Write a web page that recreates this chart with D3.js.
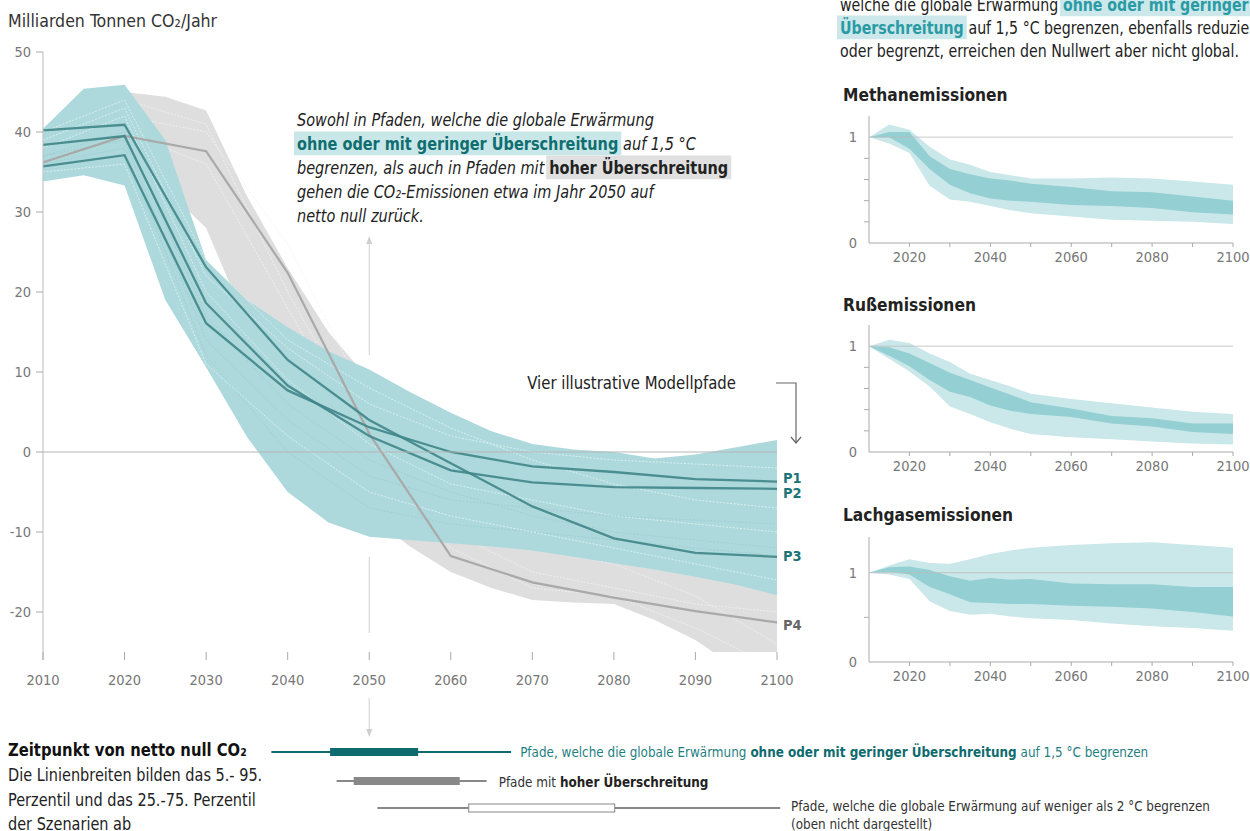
<!DOCTYPE html>
<html><head><meta charset="utf-8">
<script src="https://cdn.jsdelivr.net/npm/d3@7"></script>
<style>body{margin:0;background:#fff} text{white-space:pre}</style>
</head><body><svg id="c" width="1250" height="831"></svg>
<script>
// ---------- DATA ----------
const decades = [2010,2020,2030,2040,2050,2060,2070,2080,2090,2100];
const p1 = [35.7, 37.1, 16.1, 7.7, 3.1, 0.0, -1.8, -2.5, -3.4, -3.7];
const p2 = [38.4, 39.5, 18.6, 8.3, 2.0, -2.3, -3.8, -4.4, -4.5, -4.6];
const p3 = [40.2, 40.9, 23.1, 11.5, 4.0, -1.4, -6.8, -10.8, -12.6, -13.1];
const p4 = [36.2, 39.5, 37.6, 22.4, 2.3, -13.0, -16.3, -18.2, -19.9, -21.3];
const pathNames = ["P1","P2","P3","P4"];

const years5 = [2010,2015,2020,2025,2030,2035,2040,2045,2050,2055,2060,2065,2070,2075,2080,2085,2090,2095,2100];
const tealHigh = [40.4,45.4,45.9,39.0,24.0,19.0,15.6,12.6,10.3,7.5,4.9,2.6,1.0,0.3,0.0,-0.8,-0.3,0.6,1.5];
const tealLow  = [33.8,34.6,33.3,19.0,10.6,1.9,-5.0,-8.8,-10.6,-11.0,-11.4,-11.8,-12.3,-13.1,-13.9,-14.7,-15.6,-16.6,-17.9];
const greyHigh = [39.0,42.0,45.0,44.4,42.7,32.0,23.0,15.0,9.0,5.5,3.0,1.0,-0.5,-1.0,-1.5,-2.0,-2.0,-2.0,-2.0];
const greyLow  = [35.0,36.0,37.0,33.0,28.0,16.0,5.0,-3.0,-8.0,-11.8,-15.0,-17.0,-18.5,-18.8,-19.0,-21.0,-23.5,-27.0,-30.0];

// faint individual scenario lines (decadal)
const tealScen = [
  [38, 42, 20, 9, 1, -4, -6, -8, -9, -10],
  [37, 39, 14, 4, -3, -6, -7, -8, -8.5, -9],
  [39, 43, 22, 13, 6, 2, 0, -1, -1.5, -2],
  [36, 38, 12, 0, -7, -9, -10, -11, -12, -13],
  [40, 44, 24, 14, 8, 3, -1, -4, -6, -7],
  [37, 40, 17, 6, -1, -5, -8, -10, -11, -12],
  [35, 36, 11, 2, -5, -8, -10, -12, -14, -16]
];
const greyScen = [
  [38, 42, 40, 26, 6, -10, -15, -17, -19, -20],
  [37, 44, 41, 20, 2, -8, -12, -14, -18, -24],
  [36, 40, 36, 18, 0, -12, -17, -18, -22, -27]
];

const yTicks = [-20,-10,0,10,20,30,40,50];
const xTicks = [2010,2020,2030,2040,2050,2060,2070,2080,2090,2100];

// small panels
const pYears = [2010,2015,2020,2025,2030,2035,2040,2045,2050,2060,2070,2080,2090,2100];
const mOutHi = [1.0,1.12,1.07,0.91,0.79,0.74,0.67,0.64,0.61,0.61,0.62,0.61,0.58,0.55];
const mOutLo = [1.0,0.94,0.85,0.54,0.41,0.39,0.35,0.31,0.28,0.25,0.22,0.21,0.20,0.18];
const mInHi  = [1.0,1.05,1.05,0.82,0.70,0.65,0.61,0.59,0.56,0.53,0.49,0.48,0.44,0.40];
const mInLo  = [1.0,1.00,0.89,0.70,0.55,0.47,0.42,0.40,0.39,0.36,0.35,0.33,0.29,0.27];
const bOutHi = [1.0,1.06,1.03,0.93,0.85,0.74,0.68,0.62,0.55,0.50,0.46,0.42,0.38,0.36];
const bOutLo = [1.0,0.88,0.76,0.62,0.43,0.36,0.28,0.22,0.17,0.14,0.12,0.10,0.08,0.07];
const bInHi  = [1.0,0.99,0.93,0.84,0.75,0.68,0.61,0.54,0.47,0.41,0.34,0.32,0.27,0.27];
const bInLo  = [1.0,0.91,0.81,0.68,0.57,0.52,0.44,0.39,0.36,0.33,0.27,0.24,0.19,0.17];
const nOutHi = [1.0,1.08,1.15,1.11,1.10,1.15,1.21,1.25,1.28,1.31,1.33,1.34,1.31,1.28];
const nOutLo = [1.0,0.98,0.93,0.68,0.57,0.53,0.54,0.51,0.49,0.47,0.43,0.40,0.38,0.35];
const nInHi  = [1.0,1.06,1.07,1.03,0.96,0.91,0.94,0.92,0.93,0.88,0.87,0.87,0.84,0.84];
const nInLo  = [1.0,1.01,0.98,0.84,0.76,0.67,0.66,0.65,0.65,0.63,0.62,0.60,0.56,0.51];
const panelTitles = ["Methanemissionen","Rußemissionen","Lachgasemissionen"];
const panelXLabels = [2020,2040,2060,2080,2100];

// net-zero timing (5th, 25th, 75th, 95th percentile year)
const nzLow  = [2038, 2045.2, 2056, 2067.4];
const nzHigh = [2046, 2048.1, 2061.1, 2064.4];
const nz2C   = [2051, 2062.2, 2080.1, 2100.4];

// ---------- DRAW ----------
const FONT = "'DejaVu Sans Condensed','Liberation Sans Narrow','Open Sans',sans-serif";
const SQ = 0.92; // horizontal condensing of prose text
const svg = d3.select("#c");
const x = d3.scaleLinear().domain([2010,2100]).range([43,777]);
const y = d3.scaleLinear().domain([-25,50]).range([652,52]);

function cond(sel, f){
  const w = sel.node().getComputedTextLength();
  sel.attr("textLength", w*(f||SQ)).attr("lengthAdjust","spacingAndGlyphs");
  return w*(f||SQ);
}

svg.append("defs").append("clipPath").attr("id","clipMain")
  .append("rect").attr("x",x(2010)).attr("y",y(50)).attr("width",x(2100)-x(2010)).attr("height",y(-25)-y(50));

const g = svg.append("g").attr("clip-path","url(#clipMain)");
const area5 = (hi,lo) => d3.area().x((d,i)=>x(years5[i])).y0((d,i)=>y(lo[i])).y1((d,i)=>y(hi[i]))(hi);
const lineDec = d3.line().x((d,i)=>x(decades[i])).y(d=>y(d));

g.append("path").attr("d",area5(greyHigh,greyLow)).attr("fill","#dedede");
greyScen.forEach(s=>g.append("path").attr("d",lineDec(s)).attr("fill","none")
  .attr("stroke","#f2f2f2").attr("stroke-width",0.8).attr("stroke-dasharray","2,1.5"));
g.append("path").attr("d",area5(tealHigh,tealLow)).attr("fill","#aed9dc");
tealScen.forEach((s,k)=>g.append("path").attr("d",lineDec(s)).attr("fill","none")
  .attr("stroke", k%2 ? "#9ccdd1" : "#dcf0f1").attr("stroke-width",0.9).attr("stroke-dasharray","2,1.5"));

// zero line
svg.append("line").attr("x1",x(2010)).attr("x2",x(2100)).attr("y1",y(0)).attr("y2",y(0))
  .attr("stroke","#b5b5b5").attr("stroke-width",1.2);

// illustrative paths
g.append("path").attr("d",lineDec(p4)).attr("fill","none").attr("stroke","#a9a9a9").attr("stroke-width",2.2);
[p1,p2,p3].forEach(p=>g.append("path").attr("d",lineDec(p)).attr("fill","none")
  .attr("stroke","#3f8588").attr("stroke-width",2.3).attr("stroke-opacity",0.9));

// axes
const ax = svg.append("g").attr("font-family",FONT);
ax.append("line").attr("x1",x(2010)).attr("x2",x(2010)).attr("y1",y(50)).attr("y2",y(-25)+8).attr("stroke","#bbb");
yTicks.forEach(v=>{
  ax.append("line").attr("x1",x(2010)-7).attr("x2",x(2010)).attr("y1",y(v)).attr("y2",y(v)).attr("stroke","#aaa");
  ax.append("text").attr("x",x(2010)-12).attr("y",y(v)).attr("dy","0.35em").attr("text-anchor","end")
    .attr("font-size",14.5).attr("fill","#777").text(v);
});
xTicks.forEach(v=>{
  ax.append("line").attr("x1",x(v)).attr("x2",x(v)).attr("y1",y(-25)).attr("y2",y(-25)+8).attr("stroke","#aaa");
  ax.append("text").attr("x",x(v)).attr("y",685).attr("text-anchor","middle")
    .attr("font-size",14.5).attr("fill","#777").text(v);
});
cond(svg.append("text").attr("x",8).attr("y",27).attr("font-family",FONT).attr("font-size",18.5).attr("fill","#333")
  .text("Milliarden Tonnen CO₂/Jahr"), 0.95);

// P labels
const ends = [p1,p2,p3,p4].map(p=>p[p.length-1]);
const dyOff = [-4,4,-1,3];
ends.forEach((v,i)=>svg.append("text").attr("x",x(2100)+6).attr("y",y(v)+dyOff[i]).attr("dy","0.35em")
  .attr("font-family",FONT).attr("font-weight","bold").attr("font-size",14.5)
  .attr("fill", i<3 ? "#1b7477" : "#666").text(pathNames[i]));

// rich text helper: each segment is its own text element; edge spaces become gaps
function rich(parent, x0, yb, segs, base){
  let cx = x0;
  const f = base.f || SQ;
  segs.forEach(s=>{
    const size = s.size || base.size;
    const gap = size*0.3*f;
    let txt = s.t;
    if (txt.startsWith(" ")) { cx += gap; txt = txt.trimStart(); }
    const trail = txt.endsWith(" ");
    txt = txt.trimEnd();
    const t = parent.append("text").attr("x",cx).attr("y",yb).attr("font-family",FONT)
      .attr("font-size",size).attr("font-style",(s.italic!==undefined? s.italic : base.italic) ? "italic":"normal")
      .attr("font-weight", s.bold ? "bold":"normal").attr("fill", s.color || base.color).text(txt);
    const w = cond(t, f);
    if (s.bg){
      parent.insert("rect", ()=>t.node()).attr("x",cx-3).attr("y",yb-size*1.06).attr("width",w+6)
        .attr("height",size*1.36).attr("fill",s.bg);
    }
    cx += w + (trail ? gap : 0);
  });
}

// annotation
const an = svg.append("g");
const aBase = {size:17.5, italic:true, color:"#222"};
rich(an, 297, 126, [{t:"Sowohl in Pfaden, welche die globale Erwärmung"}], aBase);
rich(an, 297, 150, [{t:"ohne oder mit geringer Überschreitung", bold:true, italic:false, color:"#0f6e70", bg:"#c9e7e9"},{t:" auf 1,5 °C"}], aBase);
rich(an, 297, 174, [{t:"begrenzen, als auch in Pfaden mit "},{t:"hoher Überschreitung", bold:true, italic:false, color:"#222", bg:"#e0e0e0"}], aBase);
rich(an, 297, 198, [{t:"gehen die CO₂-Emissionen etwa im Jahr 2050 auf"}], aBase);
rich(an, 297, 222, [{t:"netto null zurück."}], aBase);

// vertical marker at 2050
const vx = x(2050);
const vc = "#cfcfcf";
svg.append("line").attr("x1",vx).attr("x2",vx).attr("y1",238).attr("y2",355).attr("stroke",vc);
svg.append("path").attr("d",`M${vx-3},${244}L${vx},${236}L${vx+3},${244}Z`).attr("fill",vc);
svg.append("line").attr("x1",vx).attr("x2",vx).attr("y1",557).attr("y2",633).attr("stroke",vc);
svg.append("line").attr("x1",vx).attr("x2",vx).attr("y1",698).attr("y2",733).attr("stroke",vc);
svg.append("path").attr("d",`M${vx-3},${729}L${vx},${737}L${vx+3},${729}Z`).attr("fill",vc);

// "Vier illustrative Modellpfade"
cond(svg.append("text").attr("x",736).attr("y",389).attr("text-anchor","end").attr("font-family",FONT)
  .attr("font-size",18).attr("fill","#222").text("Vier illustrative Modellpfade"));
svg.append("path").attr("d","M776,383H796V443").attr("fill","none").attr("stroke","#666").attr("stroke-width",1.2);
svg.append("path").attr("d","M791,437L796,443L801,437").attr("fill","none").attr("stroke","#666").attr("stroke-width",1.2);

// top-right text (cut off by the frame, as in the source)
const tr = svg.append("g");
const tBase = {size:17.5, italic:false, color:"#222", f:0.9};
rich(tr, 840, 11, [{t:"welche die globale Erwärmung "},{t:"ohne oder mit geringer", bold:true, color:"#2a9ba5", bg:"#cce8ea"}], tBase);
rich(tr, 840, 34, [{t:"Überschreitung", bold:true, color:"#2a9ba5", bg:"#cce8ea"},{t:" auf 1,5 °C begrenzen, ebenfalls reduziert"}], tBase);
rich(tr, 840, 57, [{t:"oder begrenzt, erreichen den Nullwert aber nicht global."}], tBase);

// small panels
const px = d3.scaleLinear().domain([2010,2100]).range([869,1233]);
const panels = [
  {top:116, bot:243, max:1.2, minor:[0.2,0.4,0.6,0.8], oh:mOutHi, ol:mOutLo, ih:mInHi, il:mInLo, ty:101},
  {top:325, bot:452, max:1.2, minor:[0.2,0.4,0.6,0.8], oh:bOutHi, ol:bOutLo, ih:bInHi, il:bInLo, ty:311},
  {top:537, bot:662, max:1.4, minor:[0.5], oh:nOutHi, ol:nOutLo, ih:nInHi, il:nInLo, ty:521}
];
panels.forEach((p,k)=>{
  const py = d3.scaleLinear().domain([0,p.max]).range([p.bot,p.top]);
  const pg = svg.append("g").attr("font-family",FONT);
  cond(pg.append("text").attr("x",843).attr("y",p.ty).attr("font-size",18.5).attr("font-weight","bold").attr("fill","#222").text(panelTitles[k]), 0.93);
  const ar = (hi,lo)=>d3.area().x((d,i)=>px(pYears[i])).y0((d,i)=>py(lo[i])).y1((d,i)=>py(hi[i]))(hi);
  pg.append("path").attr("d",ar(p.oh,p.ol)).attr("fill","#cae7e9");
  pg.append("path").attr("d",ar(p.ih,p.il)).attr("fill","#93cfd3");
  pg.append("line").attr("x1",px(2010)).attr("x2",px(2100)).attr("y1",py(1)).attr("y2",py(1)).attr("stroke","#bbb").attr("stroke-opacity",0.8);
  pg.append("line").attr("x1",px(2010)).attr("x2",px(2010)).attr("y1",p.top).attr("y2",p.bot).attr("stroke","#aaa");
  pg.append("line").attr("x1",px(2010)).attr("x2",px(2100)).attr("y1",p.bot).attr("y2",p.bot).attr("stroke","#aaa");
  p.minor.forEach(v=>pg.append("line").attr("x1",px(2010)-5).attr("x2",px(2010)).attr("y1",py(v)).attr("y2",py(v)).attr("stroke","#aaa"));
  [0,1].forEach(v=>pg.append("text").attr("x",px(2010)-12).attr("y",py(v)).attr("dy","0.35em").attr("text-anchor","end")
    .attr("font-size",14.5).attr("fill","#777").text(v));
  d3.range(2020,2101,10).forEach(v=>pg.append("line").attr("x1",px(v)).attr("x2",px(v)).attr("y1",p.bot).attr("y2",p.bot+4).attr("stroke","#aaa"));
  panelXLabels.forEach(v=>pg.append("text").attr("x",px(v)).attr("y",p.bot+19).attr("text-anchor","middle")
    .attr("font-size",14.5).attr("fill","#777").text(v));
});

// bottom legend
const lg = svg.append("g").attr("font-family",FONT);
cond(lg.append("text").attr("x",8).attr("y",756).attr("font-size",18.5).attr("font-weight","bold").attr("fill","#111").text("Zeitpunkt von netto null CO₂"), 0.89);
["Die Linienbreiten bilden das 5.- 95.","Perzentil und das 25.-75. Perzentil","der Szenarien ab"].forEach((t,i)=>
  cond(lg.append("text").attr("x",8).attr("y",781+i*24.5).attr("font-size",17.5).attr("fill","#222").text(t)));

function bar(vals, yc, col, fill){
  lg.append("line").attr("x1",x(vals[0])).attr("x2",x(vals[3])).attr("y1",yc).attr("y2",yc).attr("stroke",col).attr("stroke-width",2);
  lg.append("rect").attr("x",x(vals[1])).attr("y",yc-4).attr("width",x(vals[2])-x(vals[1])).attr("height",8)
    .attr("fill",fill||col).attr("stroke",fill?col:"none").attr("stroke-width",1);
}
bar(nzLow, 752, "#0e6b6e");
bar(nzHigh, 781, "#888");
bar(nz2C, 808, "#888", "#fff");
const lBase = {size:14.5, italic:false, color:"#1f7f82"};
rich(lg, x(nzLow[3])+9, 757, [{t:"Pfade, welche die globale Erwärmung "},{t:"ohne oder mit geringer Überschreitung", bold:true, color:"#0e6b6e"},{t:" auf 1,5 °C begrenzen"}], lBase);
rich(lg, x(nzHigh[3])+12, 787, [{t:"Pfade mit "},{t:"hoher Überschreitung", bold:true, color:"#222"}], {size:14.5, italic:false, color:"#333"});
rich(lg, 791, 811, [{t:"Pfade, welche die globale Erwärmung auf weniger als 2 °C begrenzen"}], {size:14.5, italic:false, color:"#333"});
rich(lg, 791, 829, [{t:"(oben nicht dargestellt)"}], {size:14.5, italic:false, color:"#333"});
</script></body></html>
